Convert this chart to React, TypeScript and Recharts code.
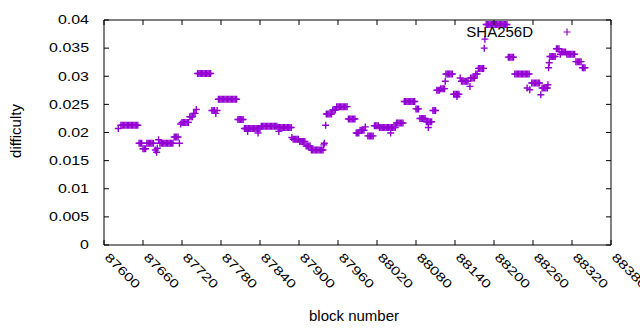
import React from "react";
import { ScatterChart, Scatter, XAxis, YAxis, Legend } from "recharts";

// block number, difficulty
const earlyBlocks: [number, number][] = [
  [87622, 0.0207],
  [87626, 0.0213], [87628, 0.0213], [87630, 0.0213], [87632, 0.0213], [87634, 0.0213], [87636, 0.0213], [87638, 0.0213],
  [87640, 0.0213], [87642, 0.0213], [87644, 0.0213], [87646, 0.0213], [87648, 0.0213], [87650, 0.0213], [87652, 0.0213],
  [87654, 0.0181], [87656, 0.0181], [87658, 0.0181],
  [87660, 0.0171], [87662, 0.0171], [87664, 0.0171],
  [87666, 0.0181], [87668, 0.0181], [87670, 0.0181], [87672, 0.0181], [87674, 0.0181], [87676, 0.0181],
  [87679, 0.0169], [87681, 0.0165], [87682, 0.0172],
  [87684, 0.0187],
  [87686, 0.0181], [87688, 0.0181], [87690, 0.0181], [87692, 0.0181], [87694, 0.0181], [87696, 0.0181],
  [87698, 0.0181], [87700, 0.0181], [87702, 0.0181], [87704, 0.0181], [87706, 0.0181],
  [87708, 0.0192], [87710, 0.0192], [87712, 0.0192], [87714, 0.0192],
  [87716, 0.0181],
  [87718, 0.0215],
  [87720, 0.0218], [87722, 0.0218], [87724, 0.0218], [87726, 0.0218], [87728, 0.0218], [87730, 0.0218],
  [87732, 0.0228], [87734, 0.0228], [87736, 0.0228],
  [87738, 0.0234], [87740, 0.0234],
  [87742, 0.0241],
  [87744, 0.0305], [87746, 0.0305], [87748, 0.0305], [87750, 0.0305], [87752, 0.0305], [87754, 0.0305],
  [87756, 0.0305], [87758, 0.0305], [87760, 0.0305], [87762, 0.0305], [87764, 0.0305],
  [87766, 0.0239], [87768, 0.0239], [87770, 0.0239], [87772, 0.0234], [87774, 0.0239],
  [87776, 0.0259], [87778, 0.0259], [87780, 0.0259], [87782, 0.0259], [87784, 0.0259], [87786, 0.0259], [87788, 0.0259],
  [87790, 0.0259], [87792, 0.0259], [87794, 0.0259], [87796, 0.0259], [87798, 0.0259], [87800, 0.0259], [87802, 0.0259],
  [87804, 0.0259],
  [87806, 0.0223], [87808, 0.0223], [87810, 0.0223], [87812, 0.0223], [87814, 0.0223],
];

const middleBlocks: [number, number][] = [
  [87816, 0.0207], [87818, 0.0207], [87820, 0.0207], [87821, 0.0202], [87822, 0.0207], [87824, 0.0207], [87826, 0.0207],
  [87828, 0.0207], [87830, 0.0207], [87832, 0.0207], [87834, 0.0207], [87836, 0.0207], [87837, 0.0199], [87838, 0.0207],
  [87840, 0.0207],
  [87842, 0.0211], [87844, 0.0211], [87846, 0.0211], [87848, 0.0211], [87850, 0.0211], [87852, 0.0211], [87854, 0.0211],
  [87856, 0.0211], [87858, 0.0211], [87860, 0.0211], [87862, 0.0211], [87864, 0.0211], [87866, 0.0211],
  [87868, 0.0209], [87869, 0.0202], [87870, 0.0209], [87872, 0.0209], [87874, 0.0209], [87876, 0.0209], [87878, 0.0209],
  [87880, 0.0209], [87882, 0.0209], [87884, 0.0209], [87886, 0.0209], [87888, 0.0209],
  [87889, 0.0191],
  [87891, 0.0188], [87893, 0.0188], [87895, 0.0188], [87897, 0.0188], [87899, 0.0188],
  [87901, 0.0184], [87903, 0.0184], [87905, 0.0184], [87907, 0.0184], [87909, 0.0184],
  [87911, 0.0176], [87913, 0.0176], [87915, 0.0176], [87917, 0.0176],
  [87919, 0.0169], [87921, 0.0169], [87923, 0.0169], [87925, 0.0169], [87927, 0.0169], [87929, 0.0169], [87931, 0.0169],
  [87933, 0.0169], [87935, 0.0169], [87937, 0.0169],
  [87938, 0.0178], [87939, 0.0181],
  [87941, 0.0213],
  [87942, 0.0233], [87944, 0.0233], [87946, 0.0233], [87948, 0.0233], [87950, 0.0233],
  [87952, 0.024], [87954, 0.024], [87956, 0.024],
  [87958, 0.0246], [87960, 0.0246], [87962, 0.0246], [87964, 0.0246], [87966, 0.0246], [87968, 0.0246], [87970, 0.0246],
  [87972, 0.0246], [87974, 0.0246],
  [87976, 0.0224], [87978, 0.0224], [87980, 0.0224], [87982, 0.0224], [87984, 0.0224], [87986, 0.0224],
  [87988, 0.0199], [87990, 0.0199], [87992, 0.0199],
  [87994, 0.0204], [87996, 0.0204], [87998, 0.0204], [88000, 0.0204],
  [88002, 0.021],
  [88006, 0.0194], [88008, 0.0194], [88010, 0.0194], [88012, 0.0194], [88014, 0.0194],
  [88016, 0.0212], [88018, 0.0212], [88020, 0.0212], [88022, 0.0212],
  [88024, 0.0209], [88026, 0.0209], [88028, 0.0209], [88030, 0.0209], [88032, 0.0209], [88034, 0.0209], [88036, 0.0209],
  [88038, 0.0209], [88040, 0.0209], [88041, 0.0199], [88042, 0.0209], [88044, 0.0209], [88046, 0.0209], [88048, 0.0209],
  [88050, 0.0217], [88052, 0.0217], [88054, 0.0217], [88056, 0.0217], [88058, 0.0217], [88060, 0.0217],
];

const lateBlocks: [number, number][] = [
  [88062, 0.0255], [88064, 0.0255], [88066, 0.0255], [88068, 0.0255], [88070, 0.0255], [88072, 0.0255], [88074, 0.0255],
  [88076, 0.0255], [88078, 0.0255],
  [88080, 0.0242], [88082, 0.0242], [88084, 0.0242],
  [88086, 0.0225], [88088, 0.0225], [88090, 0.0225], [88092, 0.0225], [88094, 0.0225],
  [88096, 0.0219], [88098, 0.0219], [88099, 0.0209], [88100, 0.0219], [88102, 0.0219], [88104, 0.0219],
  [88106, 0.0239], [88108, 0.0239], [88110, 0.0239],
  [88112, 0.0275], [88114, 0.0275], [88116, 0.0275],
  [88118, 0.0278], [88120, 0.0278], [88122, 0.0278], [88124, 0.0278],
  [88125, 0.0291],
  [88126, 0.0304], [88128, 0.0304], [88130, 0.0304], [88132, 0.0304], [88134, 0.0304], [88136, 0.0304],
  [88138, 0.0268], [88140, 0.0268], [88142, 0.0268], [88143, 0.0264], [88144, 0.0268], [88146, 0.0268],
  [88148, 0.0297],
  [88150, 0.0291], [88152, 0.0291], [88154, 0.0291], [88156, 0.0291], [88158, 0.0291], [88160, 0.0291],
  [88163, 0.0282],
  [88164, 0.0297], [88166, 0.0297], [88168, 0.0297], [88170, 0.0297],
  [88172, 0.0304], [88174, 0.0304],
  [88176, 0.0314], [88178, 0.0314], [88180, 0.0314], [88182, 0.0314], [88184, 0.0314],
  [88185, 0.035], [88186, 0.0366],
  [88188, 0.0392], [88190, 0.0392], [88192, 0.0392], [88194, 0.0392], [88196, 0.0392], [88198, 0.0392], [88200, 0.0392],
  [88202, 0.0392], [88204, 0.0392], [88206, 0.0392], [88208, 0.0392], [88210, 0.0392], [88212, 0.0392], [88214, 0.0392],
  [88216, 0.0392], [88218, 0.0392], [88220, 0.0392],
  [88222, 0.0334], [88224, 0.0334], [88226, 0.0334], [88228, 0.0334], [88230, 0.0334],
  [88232, 0.0304], [88234, 0.0304], [88236, 0.0304], [88238, 0.0304], [88240, 0.0304], [88242, 0.0304], [88244, 0.0304],
  [88246, 0.0304], [88248, 0.0304], [88250, 0.0304], [88251, 0.0279], [88252, 0.0304], [88254, 0.0304],
  [88255, 0.0276],
  [88258, 0.0288], [88260, 0.0288], [88262, 0.0288], [88264, 0.0288], [88266, 0.0288], [88268, 0.0288], [88270, 0.0288],
  [88272, 0.0267],
  [88274, 0.0279], [88276, 0.0279], [88278, 0.0279], [88280, 0.0279], [88282, 0.0279], [88283, 0.0285],
  [88284, 0.0315], [88285, 0.0324],
  [88286, 0.0335], [88288, 0.0335], [88290, 0.0335], [88292, 0.0335], [88294, 0.0335],
  [88296, 0.0349], [88298, 0.0349], [88300, 0.0349],
  [88302, 0.0339], [88304, 0.0343], [88306, 0.0343], [88308, 0.0343], [88310, 0.0343],
  [88312, 0.0339], [88314, 0.0339], [88316, 0.0339], [88318, 0.0339], [88320, 0.0339], [88322, 0.0339], [88324, 0.0339],
  [88326, 0.0326], [88328, 0.0326], [88330, 0.0326], [88332, 0.0326], [88334, 0.0326],
  [88336, 0.0315], [88338, 0.0315], [88340, 0.0315],
];

const xTicks = [87600, 87660, 87720, 87780, 87840, 87900, 87960, 88020, 88080, 88140, 88200, 88260, 88320, 88380];
const yTicks = [0, 0.005, 0.01, 0.015, 0.02, 0.025, 0.03, 0.035, 0.04];

const seriesName = "SHA256D";
const purple = "#9400d3";
const font = "'Liberation Sans', Arial, sans-serif";

const points = [...earlyBlocks, ...middleBlocks, ...lateBlocks].map(([block, difficulty]) => ({
  block,
  difficulty,
}));

function Plus(props: any) {
  const { cx, cy } = props;
  if (cx == null || cy == null) return null;
  return (
    <path
      d={`M${cx - 3.5},${cy}h7M${cx},${cy - 3.5}v7`}
      stroke={purple}
      strokeWidth={1.4}
      fill="none"
    />
  );
}

function BottomTick(props: any) {
  const { x, y, payload } = props;
  return (
    <g>
      <line x1={x} y1={y} x2={x} y2={y - 5} stroke="#000" />
      <g transform={`translate(${x},${y + 13}) rotate(45) scale(1.33,1)`}>
        <text x={0} y={0} fontSize={12} fontFamily={font} fill="#000" textAnchor="start">
          {payload.value}
        </text>
      </g>
    </g>
  );
}

function TopTick(props: any) {
  const { x, y } = props;
  return <line x1={x} y1={y} x2={x} y2={y + 5} stroke="#000" />;
}

function LeftTick(props: any) {
  const { x, y, payload } = props;
  return (
    <g>
      <line x1={x} y1={y} x2={x + 5} y2={y} stroke="#000" />
      <g transform={`translate(${x - 15},${y + 4.3}) scale(1.33,1)`}>
        <text x={0} y={0} fontSize={12} fontFamily={font} fill="#000" textAnchor="end">
          {String(payload.value)}
        </text>
      </g>
    </g>
  );
}

function RightTick(props: any) {
  const { x, y } = props;
  return <line x1={x} y1={y} x2={x - 5} y2={y} stroke="#000" />;
}

function KeyBox() {
  return (
    <svg width={150} height={40}>
      <text x={93} y={27.3} fontSize={15} fontFamily={font} fill="#000" textAnchor="end">
        {seriesName}
      </text>
      <path d="M123.5,22h7M127,18.5v7" stroke={purple} strokeWidth={1.2} fill="none" />
    </svg>
  );
}

export default function App() {
  return (
    <div style={{ position: "absolute", left: 0, top: 0, width: 640, height: 330, background: "#fff" }}>
      <ScatterChart width={640} height={330} margin={{ top: 0, right: 0, bottom: 0, left: 0 }}>
        <XAxis
          xAxisId="bottom"
          dataKey="block"
          type="number"
          domain={[87600, 88380]}
          allowDataOverflow
          ticks={xTicks}
          interval={0}
          height={85}
          tickSize={0}
          tickMargin={0}
          tickLine={false}
          axisLine={{ stroke: "#000" }}
          tick={<BottomTick />}
          label={{
            content: () => (
              <text x={354} y={321} fontSize={15} fontFamily={font} fill="#000" textAnchor="middle">
                block number
              </text>
            ),
          }}
        />
        <XAxis
          xAxisId="top"
          orientation="top"
          dataKey="block"
          type="number"
          domain={[87600, 88380]}
          allowDataOverflow
          ticks={xTicks}
          interval={0}
          height={20}
          tickSize={0}
          tickMargin={0}
          tickLine={false}
          axisLine={{ stroke: "#000" }}
          tick={<TopTick />}
        />
        <YAxis
          yAxisId="left"
          dataKey="difficulty"
          type="number"
          domain={[0, 0.04]}
          allowDataOverflow
          ticks={yTicks}
          interval={0}
          width={104}
          tickSize={0}
          tickMargin={0}
          tickLine={false}
          axisLine={{ stroke: "#000" }}
          tick={<LeftTick />}
          label={{
            content: () => (
              <text
                x={0}
                y={0}
                transform="translate(21,131) rotate(-90)"
                fontSize={15}
                fontFamily={font}
                fill="#000"
                textAnchor="middle"
              >
                difficulty
              </text>
            ),
          }}
        />
        <YAxis
          yAxisId="right"
          orientation="right"
          dataKey="difficulty"
          type="number"
          domain={[0, 0.04]}
          allowDataOverflow
          ticks={yTicks}
          interval={0}
          width={29}
          tickSize={0}
          tickMargin={0}
          tickLine={false}
          axisLine={{ stroke: "#000" }}
          tick={<RightTick />}
        />
        <Legend
          layout="horizontal"
          verticalAlign="middle"
          align="center"
          wrapperStyle={{ left: 440, top: 10, width: 150, height: 40 }}
          content={() => <KeyBox />}
        />
        <Scatter
          name={seriesName}
          data={points}
          xAxisId="bottom"
          yAxisId="left"
          shape={<Plus />}
          isAnimationActive={false}
        />
      </ScatterChart>
    </div>
  );
}
